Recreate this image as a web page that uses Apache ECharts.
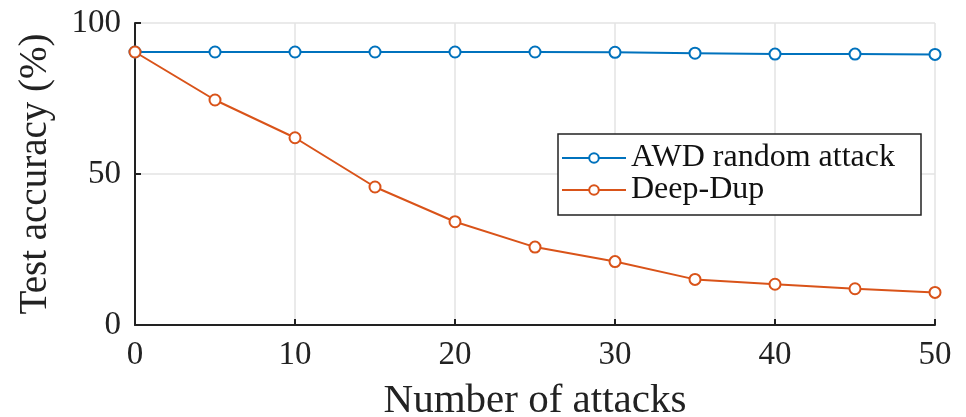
<!DOCTYPE html>
<html>
<head>
<meta charset="utf-8">
<script src="https://cdn.jsdelivr.net/npm/echarts@6/dist/echarts.min.js"></script>
<style>
  html, body { margin: 0; padding: 0; background: #fff; }
  #chart { width: 966px; height: 417px; }
</style>
</head>
<body>
<div id="chart"></div>
<script>
// Number of attacks (x positions of the samples)
const attacks = [0, 5, 10, 15, 20, 25, 30, 35, 40, 45, 50];
// Test accuracy (%) for each method
const awdRandom = [90.4, 90.4, 90.4, 90.4, 90.4, 90.4, 90.3, 90.0, 89.7, 89.7, 89.6];
const deepDup = [90.4, 74.5, 62.0, 45.7, 34.2, 25.8, 21.0, 15.1, 13.5, 12.0, 10.8];
const seriesNames = ['AWD random attack', 'Deep-Dup'];
const xTicks = [0, 10, 20, 30, 40, 50];
const yTicks = [0, 50, 100];

const serif = '"Liberation Serif", "DejaVu Serif", serif';
const chart = echarts.init(document.getElementById('chart'));

function pairs(values) {
  return attacks.map((x, i) => [x, values[i]]);
}

const lineSeries = (name, values, color) => ({
  name,
  type: 'line',
  data: pairs(values),
  symbol: 'emptyCircle',
  symbolSize: 11,
  showAllSymbol: true,
  lineStyle: { color, width: 2 },
  itemStyle: { color, borderColor: color, borderWidth: 2 },
  z: 3
});

chart.setOption({
  animation: false,
  backgroundColor: '#fff',
  grid: { left: 135, right: 31, top: 23, bottom: 92, containLabel: false, outerBoundsMode: 'none' },
  legend: {
    orient: 'vertical',
    left: 558,
    top: 134,
    padding: [8, 26, 9, 3],
    itemGap: 0,
    itemWidth: 64,
    itemHeight: 12,
    backgroundColor: '#fff',
    borderColor: '#222',
    borderWidth: 1.5,
    textStyle: { fontFamily: serif, fontSize: 32, color: '#111', padding: [0, 0, 0, 0] },
    data: seriesNames
  },
  xAxis: {
    type: 'value',
    min: 0, max: 50, interval: 10,
    name: 'Number of attacks',
    nameLocation: 'middle',
    nameGap: 56,
    nameTextStyle: { fontFamily: serif, fontSize: 41, color: '#222' },
    axisLine: { show: true, onZero: false, lineStyle: { color: '#222', width: 2 } },
    axisTick: { show: true, inside: true, length: 6, lineStyle: { color: '#222', width: 2 } },
    axisLabel: { fontFamily: serif, fontSize: 33, color: '#222', margin: 14,
      formatter: v => xTicks.includes(v) ? String(v) : '' },
    splitLine: { show: true, lineStyle: { color: '#e3e3e3', width: 1.5 } }
  },
  yAxis: {
    type: 'value',
    min: 0, max: 100, interval: 50,
    name: 'Test accuracy (%)',
    nameLocation: 'middle',
    nameGap: 80,
    nameTextStyle: { fontFamily: serif, fontSize: 39, color: '#222' },
    axisLine: { show: true, onZero: false, lineStyle: { color: '#222', width: 2 } },
    axisTick: { show: true, inside: true, length: 6, lineStyle: { color: '#222', width: 2 } },
    axisLabel: { fontFamily: serif, fontSize: 33, color: '#222', margin: 14,
      formatter: v => yTicks.includes(v) ? String(v) : '' },
    splitLine: { show: true, lineStyle: { color: '#e3e3e3', width: 1.5 } }
  },
  series: [
    lineSeries(seriesNames[0], awdRandom, '#0072BD'),
    lineSeries(seriesNames[1], deepDup, '#D95319')
  ]
});
</script>
</body>
</html>
